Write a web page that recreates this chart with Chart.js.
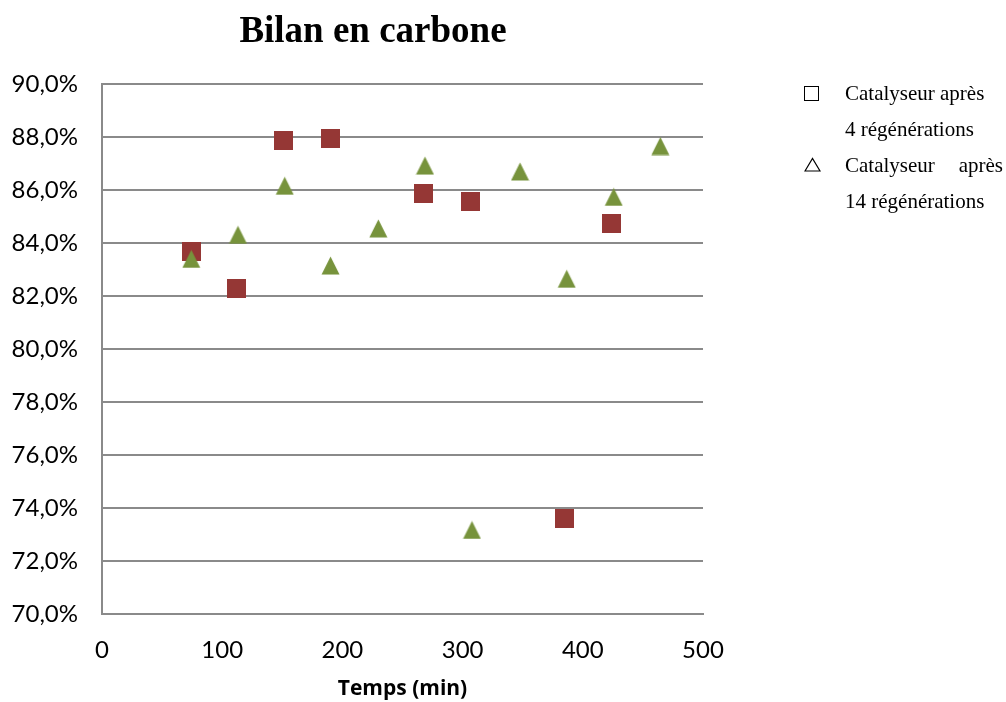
<!DOCTYPE html>
<html lang="fr">
<head>
    <meta charset="UTF-8">
    <title>Bilan en carbone</title>
    <style>
        body {
            margin: 0;
            padding: 0;
            background: #fff;
        }

        #wrap {
            position: relative;
            width: 1006px;
            height: 702px;
        }

        #titre {
            position: absolute;
            left: 123px;
            top: 11px;
            width: 500px;
            text-align: center;
            font: bold 37px/37px "Liberation Serif", "Times New Roman", serif;
            color: #000;
        }

        #legende {
            position: absolute;
            left: 800px;
            top: 75px;
            font: 21px/36px "Liberation Serif", "Times New Roman", serif;
            color: #000;
        }

        .ligne {
            position: relative;
            padding-left: 45px;
            height: 36px;
            white-space: nowrap;
        }

        .justif {
            display: flex;
            justify-content: space-between;
            width: 158px;
        }

        .carre {
            position: absolute;
            left: 4px;
            top: 11px;
            width: 13px;
            height: 13px;
            border: 1.3px solid #000;
        }

        .tri {
            position: absolute;
            left: 4px;
            top: 10px;
        }
    </style>
</head>
<body>
    <div id="wrap">
        <canvas id="graphe"></canvas>
        <div id="titre">Bilan en carbone</div>
        <div id="legende">
            <div class="ligne"><span class="carre"></span>Catalyseur après</div>
            <div class="ligne">4 régénérations</div>
            <div class="ligne">
                <svg class="tri" width="17" height="15"><polygon points="1,14 8.5,1.5 16,14" fill="none" stroke="#000" stroke-width="1.2"/></svg>
                <div class="justif"><span>Catalyseur</span><span>après</span></div>
            </div>
            <div class="ligne">14 régénérations</div>
        </div>
    </div>

    <script src="https://cdn.jsdelivr.net/npm/chart.js"></script>
    <script>
        // valeurs
        const tempsCarre = [74.6, 112, 151, 190, 267.5, 306.6, 384.8, 423.9];
        const bilanCarre = [83.69, 82.29, 87.88, 87.95, 85.88, 85.57, 73.61, 84.74];

        const tempsTriangle = [74.3, 113.1, 152, 190.1, 229.9, 268.7, 307.8, 347.8, 386.6, 425.7, 464.5];
        const bilanTriangle = [83.40, 84.31, 86.16, 83.15, 84.55, 86.92, 73.17, 86.70, 82.65, 85.74, 87.66];

        const legendeSeries = ['Catalyseur après 4 régénérations', 'Catalyseur après 14 régénérations'];

        // marqueurs façon Excel (centrés sur la boîte)
        function marqueur(forme, couleur) {
            const c = document.createElement('canvas');
            c.width = 19;
            c.height = 19;
            const g = c.getContext('2d');
            g.fillStyle = couleur;
            if (forme === 'carre') {
                g.fillRect(0, 0, 19, 19);
            } else {
                g.beginPath();
                g.moveTo(0.5, 18.5);
                g.lineTo(9.5, 0.5);
                g.lineTo(18.5, 18.5);
                g.closePath();
                g.fill();
            }
            return c;
        }

        const grille = '#8a8a8a';

        new Chart(document.getElementById('graphe'), {
            type: 'scatter',
            data: {
                datasets: [
                    {
                        label: legendeSeries[1],
                        data: tempsTriangle.map((t, i) => ({ x: t, y: bilanTriangle[i] })),
                        pointStyle: marqueur('triangle', '#77933c'),
                        pointRadius: 9,
                        order: 0
                    },
                    {
                        label: legendeSeries[0],
                        data: tempsCarre.map((t, i) => ({ x: t, y: bilanCarre[i] })),
                        pointStyle: marqueur('carre', '#953735'),
                        pointRadius: 9,
                        order: 1
                    }
                ]
            },
            options: {
                responsive: true,
                maintainAspectRatio: false,
                animation: false,
                layout: {
                    padding: { top: 84, right: 303, left: 10, bottom: 0 }
                },
                plugins: {
                    legend: { display: false },
                    title: { display: false },
                    tooltip: { enabled: false }
                },
                scales: {
                    x: {
                        type: 'linear',
                        min: 0,
                        max: 500,
                        ticks: {
                            stepSize: 100,
                            padding: 14,
                            color: '#000',
                            font: { family: 'Lato', size: 24 }
                        },
                        grid: { display: false },
                        border: { display: true, color: grille, width: 2 },
                        title: {
                            display: true,
                            text: 'Temps (min)',
                            color: '#000',
                            font: { family: 'Open Sans', size: 21, weight: 'bold' },
                            padding: { top: 0, bottom: 0 }
                        },
                        afterFit: function(scale) {
                            scale.height = 88;
                        }
                    },
                    y: {
                        min: 70,
                        max: 90,
                        ticks: {
                            stepSize: 2,
                            padding: 24,
                            color: '#000',
                            font: { family: 'Lato', size: 24 },
                            callback: function(v) {
                                return v.toFixed(1).replace('.', ',') + '%';
                            }
                        },
                        grid: { color: grille, lineWidth: 2, drawTicks: false },
                        border: { display: true, color: grille, width: 2 },
                        afterFit: function(scale) {
                            scale.width = 92;
                        }
                    }
                }
            }
        });
    </script>
</body>
</html>
